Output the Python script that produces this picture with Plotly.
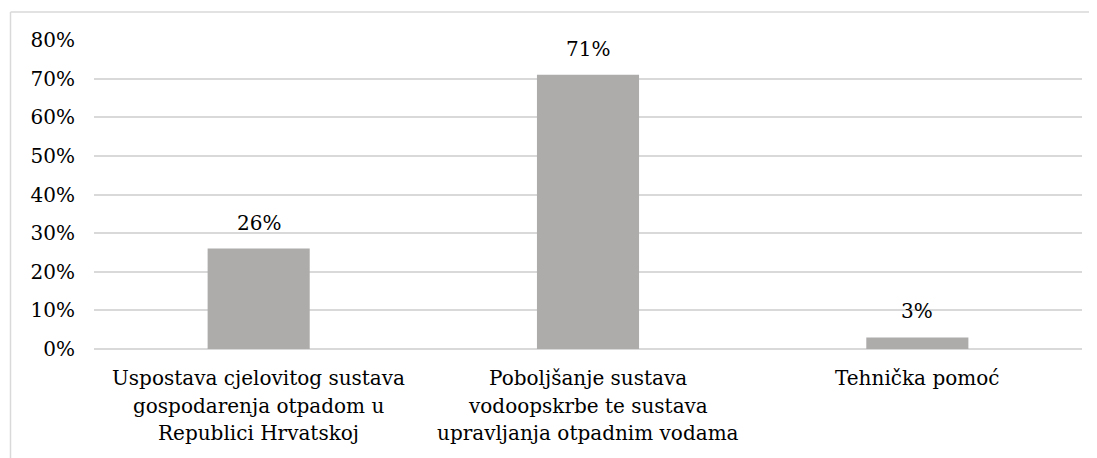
import plotly.graph_objects as go

categories = [
    "Uspostava cjelovitog sustava<br>gospodarenja otpadom u<br>Republici Hrvatskoj",
    "Poboljšanje sustava<br>vodoopskrbe te sustava<br>upravljanja otpadnim vodama",
    "Tehnička pomoć",
]
values = [0.26, 0.71, 0.03]
value_labels = ["26%", "71%", "3%"]
y_ticks = [0, 0.1, 0.2, 0.3, 0.4, 0.5, 0.6, 0.7, 0.8]
y_tick_labels = ["0%", "10%", "20%", "30%", "40%", "50%", "60%", "70%", "80%"]

FONT = "DejaVu Serif"
FS = 20
BAR_COLOR = "#AEABAB"
GRID = "#D9D9D9"

fig = go.Figure(
    go.Bar(
        x=categories,
        y=values,
        marker=dict(color=BAR_COLOR, line=dict(width=0)),
        width=0.31,
        hoverinfo="skip",
    )
)

for c, v, t in zip(categories, values, value_labels):
    fig.add_annotation(
        x=c, y=v, xref="x", yref="y", text=t, showarrow=False,
        yanchor="bottom", yshift=12,
        font=dict(family=FONT, size=FS, color="#000000"),
    )

line_offsets_px = [29, 56.5, 84]   # below the plot bottom
plot_h = 309
for c in categories:
    for i, line in enumerate(c.split("<br>")):
        fig.add_annotation(
            x=c, xref="x", yref="paper",
            y=-line_offsets_px[i] / plot_h,
            text=line, showarrow=False, yanchor="middle", xanchor="center",
            font=dict(family=FONT, size=FS, color="#000000"),
        )

bx0 = (2.5 - 86) / 988
by1 = (341 - 4) / 309
fig.update_layout(
    width=1097, height=450,
    margin=dict(l=86, r=23, t=32, b=109),
    paper_bgcolor="white", plot_bgcolor="white",
    showlegend=False,
    font=dict(family=FONT, size=FS, color="#000000"),
    shapes=[
        dict(type="line", xref="paper", yref="paper", x0=bx0, x1=1.2, y0=by1, y1=by1,
             line=dict(color=GRID, width=1.5), layer="below"),
        dict(type="line", xref="paper", yref="paper", x0=bx0, x1=bx0, y0=-0.5, y1=by1,
             line=dict(color=GRID, width=1.5), layer="below"),
    ],
)
fig.update_xaxes(
    type="category", showticklabels=False, showgrid=False, zeroline=False,
    showline=False, ticks="",
)
fig.update_yaxes(
    range=[0, 0.8], tickvals=y_ticks, ticktext=y_tick_labels,
    showgrid=True, gridcolor=GRID, gridwidth=1.5,
    zeroline=True, zerolinecolor=GRID, zerolinewidth=1.5,
    showline=False, ticks="", ticklabelstandoff=18,
    tickfont=dict(family=FONT, size=FS, color="#000000"),
)

fig.write_html("out.html")
